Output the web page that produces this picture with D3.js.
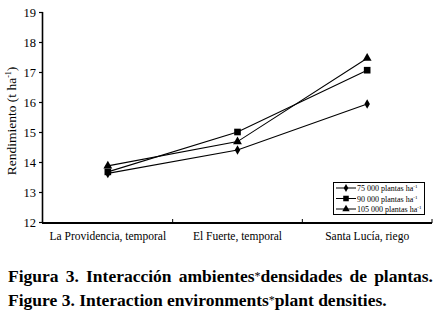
<!DOCTYPE html>
<html><head><meta charset="utf-8">
<script src="https://cdn.jsdelivr.net/npm/d3@7/dist/d3.min.js"></script>
<style>body{margin:0;background:#fff}svg{display:block}text{font-family:"Liberation Serif","DejaVu Serif","Times New Roman",serif}</style>
</head><body>
<script>
const categories = ["La Providencia, temporal", "El Fuerte, temporal", "Santa Lucía, riego"];
const seriesNames = ["75 000", "90 000", "105 000"];
const s75 = [13.62, 14.4, 15.93];
const s90 = [13.67, 15.0, 17.06];
const s105 = [13.87, 14.68, 17.46];
const yTicks = [12, 13, 14, 15, 16, 17, 18, 19];
const captions = [["Figura 3. Interacción ambientes", "densidades de plantas."], ["Figure 3. Interaction environments", "plant densities."]];

const series = [
  {name: seriesNames[0], values: s75, sym: d3.symbolDiamond, size: 26},
  {name: seriesNames[1], values: s90, sym: d3.symbolSquare, size: 44},
  {name: seriesNames[2], values: s105, sym: d3.symbolTriangle, size: 34}
];

const W = 440, H = 312;
const svg = d3.select("body").append("svg").attr("width", W).attr("height", H);

const x = d3.scaleBand().domain(categories).range([43, 432]);
const y = d3.scaleLinear().domain([12, 19]).range([222, 12]);

// y axis
const ya = svg.append("g").attr("transform", "translate(43,0)")
  .call(d3.axisLeft(y).tickValues(yTicks).tickFormat(d3.format("d")).tickSize(4).tickPadding(3));
ya.attr("font-family", null);
ya.select(".domain").attr("stroke-width", 1.6).attr("d", "M-0.5,12V223");
ya.selectAll("text").attr("font-size", 12.5).attr("fill", "#000");
ya.selectAll("line").attr("stroke-width", 1.2);

// x axis
const xa = svg.append("g").attr("transform", "translate(0,223)")
  .call(d3.axisBottom(x).tickSize(0).tickPadding(9));
xa.attr("font-family", null);
xa.select(".domain").attr("stroke-width", 2.2).attr("d", "M42,0H432");
xa.selectAll("text").attr("font-size", 11.5).attr("fill", "#000");
const bounds = [0, 1, 2, 3].map(i => 43 + i * x.step());
svg.append("g").selectAll("line").data(bounds.slice(1)).join("line")
  .attr("x1", d => d).attr("x2", d => d).attr("y1", 219).attr("y2", 223)
  .attr("stroke", "#000").attr("stroke-width", 1);

// y label
svg.append("text").attr("transform", "translate(16,121) rotate(-90)")
  .attr("text-anchor", "middle").attr("font-size", 13.5)
  .html('Rendimiento (t ha<tspan dy="-5" font-size="8">-1</tspan><tspan dy="5">)</tspan>');

// lines & markers
const line = d3.line().x((d, i) => x(categories[i]) + x.bandwidth() / 2).y(d => y(d));
series.forEach(s => {
  svg.append("path").attr("d", line(s.values)).attr("fill", "none")
    .attr("stroke", "#000").attr("stroke-width", 1.1);
  svg.append("g").selectAll("path").data(s.values).join("path")
    .attr("transform", (d, i) => `translate(${x(categories[i]) + x.bandwidth() / 2},${y(d)})`)
    .attr("d", d3.symbol().type(s.sym).size(s.size)).attr("fill", "#000");
});

// legend
const lg = svg.append("g");
lg.append("rect").attr("x", 333.5).attr("y", 182.5).attr("width", 91).attr("height", 32)
  .attr("fill", "#fff").attr("stroke", "#000").attr("stroke-width", 1);
series.forEach((s, i) => {
  const yy = 188 + i * 10.5;
  lg.append("line").attr("x1", 336).attr("x2", 356).attr("y1", yy).attr("y2", yy)
    .attr("stroke", "#000").attr("stroke-width", 1);
  lg.append("path").attr("transform", `translate(346,${yy})`)
    .attr("d", d3.symbol().type(s.sym).size(s.size * 0.7)).attr("fill", "#000");
  lg.append("text").attr("x", 357).attr("y", yy + 3)
    .attr("font-size", 8)
    .html(`${s.name} plantas ha<tspan dy="-3" font-size="5">-1</tspan>`);
});

// captions
svg.selectAll(".cap").data(captions).join("text")
  .attr("x", 8).attr("y", (d, i) => 282 + i * 24)
  .attr("font-weight", "bold").attr("font-size", 17.5)
  .attr("word-spacing", (d, i) => i === 0 ? 2.8 : 0)
  .html(d => `${d[0]}<tspan font-weight="normal" font-size="12" dy="-2">*</tspan><tspan dy="2">${d[1]}</tspan>`);
</script>
</body></html>
